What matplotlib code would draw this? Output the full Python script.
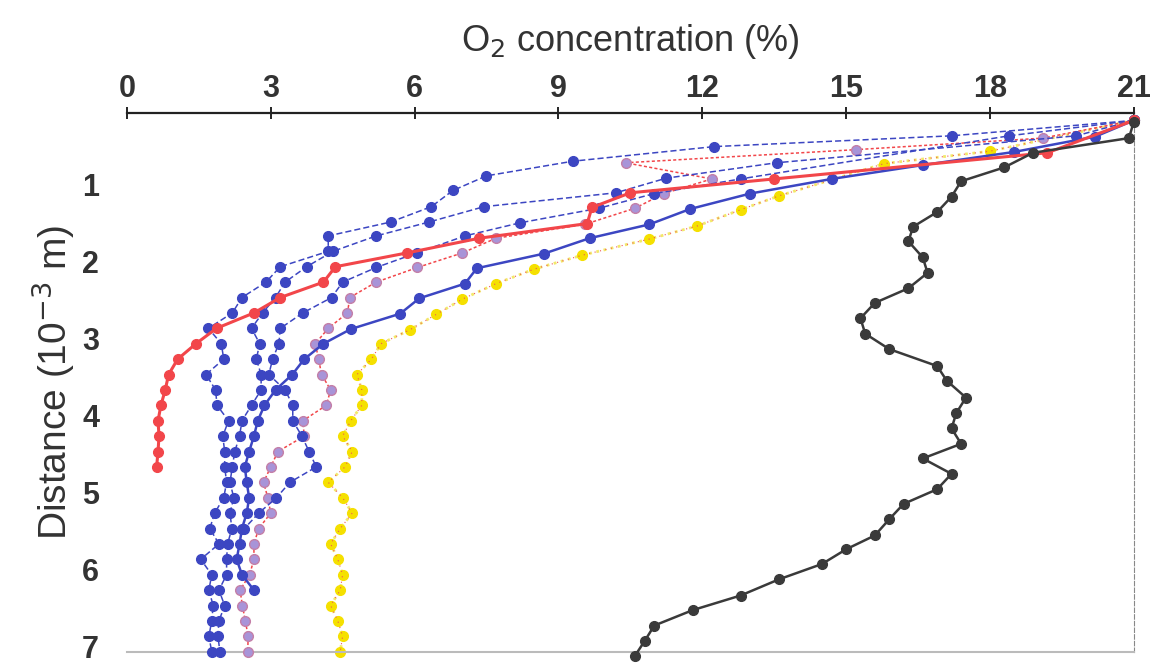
import matplotlib
matplotlib.use("Agg")
import matplotlib.pyplot as plt
from matplotlib.transforms import ScaledTranslation

plt.rcParams['font.family'] = ['Liberation Sans Narrow', 'Liberation Sans', 'DejaVu Sans']

# O2 concentration (%) vs distance (10^-3 m)
black_d = [0.12, 0.33, 0.52, 0.71, 0.89, 1.09, 1.29, 1.48, 1.67, 1.88, 2.08, 2.28, 2.47, 2.67,
           2.87, 3.07, 3.29, 3.48, 3.70, 3.90, 4.10, 4.30, 4.49, 4.69, 4.89, 5.08, 5.28, 5.49,
           5.67, 5.86, 6.06, 6.27, 6.46, 6.66, 6.86, 7.05]
black_o2 = [21.0, 20.9, 18.9, 18.3, 17.4, 17.2, 16.9, 16.4, 16.3, 16.6, 16.7, 16.3, 15.6, 15.3,
            15.4, 15.9, 16.9, 17.1, 17.5, 17.3, 17.2, 17.4, 16.6, 17.2, 16.9, 16.2, 15.9, 15.6,
            15.0, 14.5, 13.6, 12.8, 11.8, 11.0, 10.8, 10.6]

red_d = [0.1, 0.52, 0.86, 1.04, 1.23, 1.44, 1.63, 1.82, 2.0, 2.2, 2.4, 2.6, 2.8, 3.0, 3.2,
         3.4, 3.6, 3.8, 4.0, 4.2, 4.4, 4.6]
red_o2 = [21.0, 19.2, 13.5, 10.5, 9.7, 9.6, 7.35, 5.85, 4.35, 4.1, 3.2, 2.65, 1.87, 1.44, 1.06,
          0.87, 0.8, 0.71, 0.65, 0.67, 0.65, 0.62]

yellow_d = [0.1, 0.5, 0.66, 1.08, 1.26, 1.47, 1.64, 1.85, 2.03, 2.22, 2.42, 2.62, 2.82, 3.0, 3.2,
            3.4, 3.6, 3.8, 4.0, 4.2, 4.4, 4.6, 4.8, 5.0, 5.2, 5.4, 5.6, 5.8, 6.0, 6.2, 6.4, 6.6,
            6.8, 7.0]
yellow_o2 = [21.0, 18.0, 15.8, 13.6, 12.8, 11.9, 10.9, 9.5, 8.5, 7.7, 7.0, 6.45, 5.9, 5.3, 5.1,
             4.8, 4.9, 4.9, 4.67, 4.5, 4.7, 4.55, 4.2, 4.5, 4.7, 4.45, 4.25, 4.4, 4.5, 4.45, 4.25,
             4.4, 4.5, 4.45]

bsolid_d = [0.1, 0.31, 0.51, 0.68, 0.86, 1.05, 1.25, 1.45, 1.63, 1.83, 2.02, 2.22, 2.41, 2.61,
            2.81, 3.0, 3.2, 3.4, 3.6, 3.8, 4.0, 4.2, 4.4, 4.6, 4.8, 5.0, 5.2, 5.4, 5.6, 5.8,
            6.0, 6.2]
bsolid_o2 = [21.0, 20.2, 18.5, 16.6, 14.7, 13.0, 11.75, 10.9, 9.65, 8.7, 7.3, 7.05, 6.1, 5.7,
             4.67, 4.1, 3.7, 3.45, 3.1, 2.87, 2.73, 2.65, 2.55, 2.46, 2.5, 2.55, 2.5, 2.4, 2.35,
             2.29, 2.4, 2.65]

ba_d = [0.1, 0.3, 0.44, 0.63, 0.82, 1.01, 1.22, 1.42, 1.6, 1.8, 2.0, 2.2, 2.4, 2.6, 2.8, 3.0,
        3.2, 3.4, 3.6, 3.8, 4.0, 4.2, 4.4, 4.6, 4.8, 5.0, 5.2, 5.4, 5.6, 5.8, 6.0, 6.2, 6.4,
        6.6, 6.8, 7.0]
ba_o2 = [21.0, 17.2, 12.25, 9.3, 7.5, 6.8, 6.35, 5.5, 4.2, 4.2, 3.2, 2.9, 2.4, 2.2, 1.7, 1.97,
         2.02, 1.65, 1.85, 1.88, 2.12, 2.0, 2.04, 2.04, 2.08, 2.02, 1.83, 1.73, 1.92, 1.54,
         1.77, 1.71, 1.8, 1.77, 1.71, 1.77]

bb_d = [0.1, 0.3, 0.65, 0.85, 1.04, 1.22, 1.42, 1.6, 1.8, 2.0, 2.2, 2.4, 2.6, 2.8, 3.0, 3.2,
        3.4, 3.6, 3.8, 4.0, 4.2, 4.4, 4.6, 4.8, 5.0, 5.2, 5.4, 5.6, 5.8, 6.0, 6.2, 6.4, 6.6,
        6.8, 7.0]
bb_o2 = [21.0, 19.8, 13.55, 11.25, 10.2, 7.45, 6.3, 5.2, 4.3, 3.75, 3.3, 3.1, 2.83, 2.6, 2.77,
         2.7, 2.8, 2.8, 2.6, 2.4, 2.35, 2.25, 2.2, 2.15, 2.23, 2.15, 2.19, 2.1, 2.08, 2.08,
         1.92, 2.04, 1.92, 1.9, 1.94]

bc_d = [0.1, 0.3, 0.86, 1.05, 1.24, 1.43, 1.6, 1.82, 2.01, 2.2, 2.4, 2.6, 2.8, 3.0, 3.2, 3.4,
        3.6, 3.8, 4.0, 4.2, 4.4, 4.6, 4.8, 5.0, 5.2, 5.4]
bc_o2 = [21.0, 18.4, 12.8, 11.0, 9.85, 8.2, 7.05, 6.05, 5.2, 4.5, 4.27, 3.67, 3.2, 3.17, 3.04,
         2.96, 3.3, 3.46, 3.46, 3.65, 3.8, 3.95, 3.4, 3.12, 2.75, 2.45]

lav_d = [0.1, 0.33, 0.48, 0.65, 0.86, 1.05, 1.24, 1.45, 1.63, 1.82, 2.01, 2.2, 2.4, 2.6, 2.8,
         3.0, 3.2, 3.4, 3.6, 3.8, 4.0, 4.2, 4.4, 4.6, 4.8, 5.0, 5.2, 5.4, 5.6, 5.8, 6.0, 6.2,
         6.4, 6.6, 6.8, 7.0]
lav_o2 = [21.0, 19.1, 15.2, 10.4, 12.2, 11.2, 10.6, 9.55, 7.7, 7.0, 6.06, 5.2, 4.65, 4.6, 4.2,
          3.93, 4.0, 4.06, 4.25, 4.16, 3.67, 3.7, 3.15, 3.0, 2.85, 2.94, 3.0, 2.75, 2.65, 2.65,
          2.56, 2.36, 2.41, 2.47, 2.53, 2.52]

x_ticks = [0, 3, 6, 9, 12, 15, 18, 21]
y_ticks = [1, 2, 3, 4, 5, 6, 7]

BLUE = '#3c46c2'
RED = '#f2464a'
TXT = '#333333'

fig = plt.figure(figsize=(11.64, 6.63), dpi=100)
ax = fig.add_axes([0.109, 0.017, 0.865, 0.813])

ms = 7
ax.plot(yellow_o2, yellow_d, color='#f3e86a', lw=2.0, ls=':', marker='o', ms=ms,
        mfc='#f5e000', mec='#f5e000', zorder=2)
ax.plot(yellow_o2, yellow_d, color='#ee5555', lw=0.8, ls=(0, (1, 4)), zorder=2)
ax.plot(lav_o2, lav_d, color=RED, lw=1.1, ls=(0, (2, 1.5)), marker='o', ms=ms,
        mfc='#a894d8', mec='#c47fa8', mew=1.0, zorder=3)
for xs, ys in [(ba_o2, ba_d), (bb_o2, bb_d), (bc_o2, bc_d)]:
    ax.plot(xs, ys, color=BLUE, lw=1.1, ls=(0, (4, 2)), marker='o', ms=ms,
            mfc=BLUE, mec=BLUE, zorder=4)
ax.plot(bsolid_o2, bsolid_d, color=BLUE, lw=1.8, marker='o', ms=ms,
        mfc=BLUE, mec=BLUE, zorder=5)
ax.plot(red_o2, red_d, color=RED, lw=2.2, marker='o', ms=ms,
        mfc=RED, mec=RED, zorder=6)
ax.plot(black_o2, black_d, color='#3a3a3a', lw=1.8, marker='o', ms=ms,
        mfc='#3a3a3a', mec='#3a3a3a', zorder=7)

ax.set_xlim(0, 21)
ax.set_ylim(7, 0)
ax.xaxis.tick_top()
ax.xaxis.set_label_position('top')
ax.set_xticks(x_ticks)
ax.set_xticklabels([str(t) for t in x_ticks], fontsize=22, fontweight='bold', color=TXT)
ax.set_yticks(y_ticks)
ax.set_yticklabels([str(t) for t in y_ticks], fontsize=22, fontweight='bold', color=TXT)
ax.tick_params(axis='x', direction='inout', length=9, width=1.2, pad=2)
ax.tick_params(axis='y', length=0, pad=20)

# nudge y labels up a little so "7" stays inside the picture
for lbl in ax.get_yticklabels():
    lbl.set_transform(lbl.get_transform() + ScaledTranslation(0, 4 / 72, fig.dpi_scale_trans))

ax.set_xlabel(r'O$_{2}$ concentration (%)', fontsize=26, color=TXT, labelpad=16)
ax.set_ylabel(r'Distance (10$^{-3}$ m)', fontsize=28, color=TXT, labelpad=4)

ax.spines['top'].set_color('#222222')
ax.spines['top'].set_linewidth(1.6)
ax.spines['left'].set_visible(False)
ax.spines['right'].set_color('#888888')
ax.spines['right'].set_linestyle((0, (4, 2)))
ax.spines['bottom'].set_color('#bbbbbb')
ax.spines['bottom'].set_linewidth(1.5)

for line in ax.get_lines():
    line.set_clip_on(False)

fig.savefig('out.png', dpi=100)
